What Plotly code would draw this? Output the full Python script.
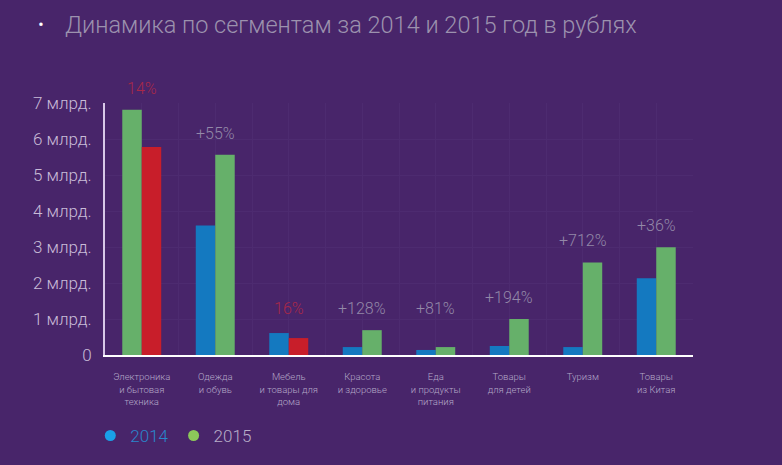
import plotly.graph_objects as go

categories = ["Электроника<br>и бытовая<br>техника", "Одежда<br>и обувь", "Мебель<br>и товары для<br>дома",
              "Красота<br>и здоровье", "Еда<br>и продукты<br>питания", "Товары<br>для детей", "Туризм",
              "Товары<br>из Китая"]
values_2014 = [6.81, 3.60, 0.61, 0.22, 0.14, 0.25, 0.22, 2.13]
values_2015 = [5.78, 5.56, 0.47, 0.69, 0.22, 1.00, 2.57, 2.99]
change_labels = ["14%", "+55%", "16%", "+128%", "+81%", "+194%", "+712%", "+36%"]
tick_vals = [0, 1, 2, 3, 4, 5, 6, 7]
tick_text = ["0", "1 млрд.", "2 млрд.", "3 млрд.", "4 млрд.", "5 млрд.", "6 млрд.", "7 млрд."]

BG = "#48256a"
BLUE = "#1479c0"
GREEN = "#66b06a"
RED = "#c81e2a"
FONT = "Roboto"
GRID = "#4d2b70"

x = list(range(len(categories)))

col14 = []
col15 = []
for i, (a, b) in enumerate(zip(values_2014, values_2015)):
    col14.append(GREEN if i == 0 else BLUE)
    col15.append(RED if b < a else GREEN)

fig = go.Figure()
fig.add_trace(go.Bar(x=x, y=values_2014, marker=dict(color=col14, line=dict(width=0)),
                     showlegend=False, offsetgroup="a"))
fig.add_trace(go.Bar(x=x, y=values_2015, marker=dict(color=col15, line=dict(width=0)),
                     showlegend=False, offsetgroup="b"))

fig.add_trace(go.Scatter(x=[None], y=[None], mode="markers",
                         marker=dict(color="#1aa0e8", size=11, symbol="circle"),
                         name="<span style='color:#2a86cc'>2014</span>"))
fig.add_trace(go.Scatter(x=[None], y=[None], mode="markers",
                         marker=dict(color="#8cc85a", size=11, symbol="circle"),
                         name="<span style='color:#b8aec8'>2015</span>"))

for i, lab in enumerate(change_labels):
    top = max(values_2014[i], values_2015[i], 0.69)
    neg = values_2015[i] < values_2014[i]
    fig.add_annotation(x=i, y=top, text=lab, showarrow=False, yanchor="bottom", yshift=10,
                       font=dict(family=FONT, size=16, color="#a82848" if neg else "#9388a8",
                                 weight=300))

fig.add_annotation(xref="paper", yref="paper", x=-0.0714, y=1.308, xanchor="left", yanchor="middle",
                   text="Динамика по сегментам за 2014 и 2015 год в рублях", showarrow=False,
                   font=dict(family=FONT, size=23.5, color="#9c92ae", weight=300))
fig.add_annotation(xref="paper", yref="paper", x=-0.108, y=1.31, xanchor="center", yanchor="middle",
                   text="•", showarrow=False, font=dict(family=FONT, size=18, color="#ffffff"))

fig.update_layout(
    width=782, height=465,
    paper_bgcolor=BG, plot_bgcolor=BG,
    margin=dict(l=105, r=89, t=103, b=109),
    barmode="group", bargap=0.47, bargroupgap=0,
    font=dict(family=FONT, color="#c8bcd8", weight=300),
    legend=dict(orientation="h", x=-0.025, y=-0.316, xanchor="left", yanchor="middle",
                font=dict(family=FONT, size=17, weight=300), bgcolor="rgba(0,0,0,0)",
                itemwidth=30),
    xaxis=dict(range=[-0.5, 7.5], tickvals=x, ticktext=categories,
               tickfont=dict(family=FONT, size=9.5, color="#b4a8c8", weight=300),
               showgrid=True, gridcolor=GRID, gridwidth=1,
               minor=dict(dtick=0.5, tick0=0, showgrid=True, gridcolor=GRID),
               showline=True, linecolor="#ffffff", linewidth=2, ticks="", zeroline=False,
               ticklabelstandoff=12, fixedrange=True),
    yaxis=dict(range=[0, 7], tickvals=tick_vals, ticktext=tick_text,
               tickfont=dict(family=FONT, size=17, color="#c8bcd8", weight=300),
               showgrid=True, gridcolor=GRID, gridwidth=1,
               showline=True, linecolor="#d8c8e8", linewidth=2, ticks="", zeroline=False,
               ticklabelstandoff=8, fixedrange=True),
)

fig.write_html("out.html", config={"displayModeBar": False},
               post_script="document.body.style.margin='0';document.body.style.background='%s';" % BG)
